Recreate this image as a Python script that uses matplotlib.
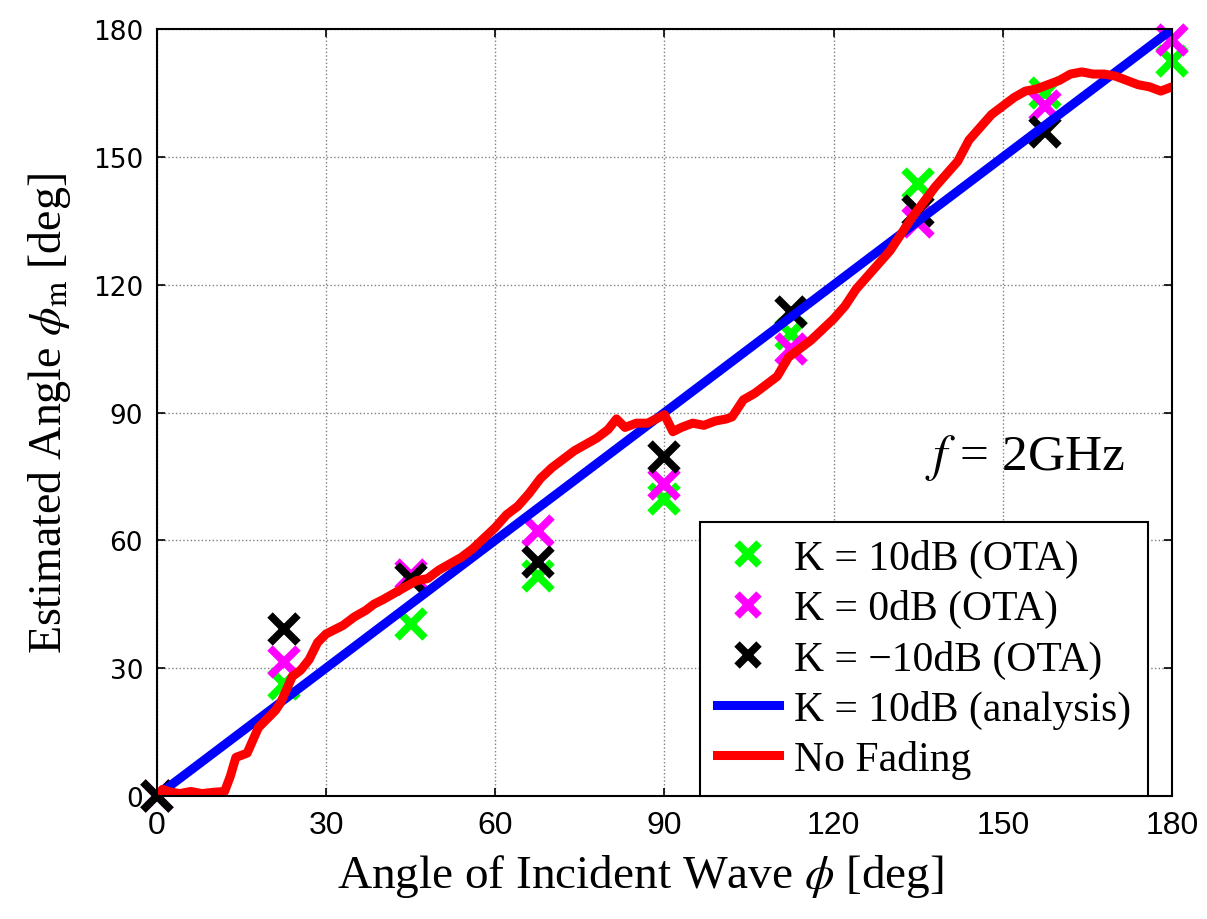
import matplotlib
matplotlib.use('Agg')
import matplotlib.pyplot as plt

plt.rcParams['mathtext.fontset'] = 'stix'
plt.rcParams['font.family'] = ['Liberation Serif', 'DejaVu Serif']

# OTA measurement points (black point at 180 is off the chart / hidden)
ota_angle = [0, 22.5, 45, 67.5, 90, 112.5, 135, 157.5, 180]
k10_ota = [0, 26.3, 40.4, 51.6, 69.7, 108.5, 143.7, 165.0, 172.5]
k0_ota = [0, 31.5, 51.8, 62.2, 73.2, 104.9, 134.7, 162.0, 177.5]
km10_ota = [0, 39.2, 50.9, 54.9, 79.6, 113.6, 137.3, 156.0, float('nan')]

# analysis (K = 10dB)
ana_angle = [0, 180]
ana_est = [0, 180]

# no fading
nf_angle = [0, 1, 2, 4, 6, 8, 10, 12, 13, 14, 16, 17, 18, 19.5, 21, 22, 23, 24,
            25.5, 27, 28.5, 30, 31.5, 33, 35, 37, 38.5, 40, 42, 44, 46, 48, 50,
            52, 54, 56, 58, 60, 62, 64, 66, 68, 70, 72, 74, 76, 78, 80, 81.5, 83,
            85, 87, 88.5, 90, 91.5, 93, 95, 97, 99, 101, 102, 104, 106, 108, 110,
            112, 114, 116, 118, 120, 122, 124, 126, 128, 130, 132, 134, 136, 138,
            140, 142, 144, 146, 148, 150, 152, 154, 156, 158, 160, 162, 164, 166,
            168, 170, 172, 174, 176, 178, 180]
nf_est = [0, 1.5, 1, 0.5, 1, 0.5, 0.8, 1, 4.5, 9, 10, 13, 16, 18, 20, 22, 25, 28,
          29.5, 32, 36, 38, 39, 40, 42, 43.5, 45, 46, 47.5, 49, 50.5, 51, 53,
          54.5, 56, 58, 60.5, 63, 66, 68, 71, 74.5, 77, 79, 81, 82.5, 84, 86, 88.5, 86.5,
          87.5, 87.5, 88.5, 89.5, 85.5, 86.5, 87.5, 87, 88, 88.5, 89, 93, 94.5, 96.5, 98.5,
          103, 105, 107, 109.5, 112, 115, 119, 122, 125, 128, 132, 136, 139.5, 143,
          146, 149, 154, 157, 160, 162, 164, 165.5, 166, 167, 168, 169.5, 170, 169.5,
          169.5, 169, 168, 167, 166.5, 165.5, 166.5]

ticks = [0, 30, 60, 90, 120, 150, 180]

fig = plt.figure(figsize=(12.07, 9.2), dpi=100)
ax = fig.add_axes([0.130, 0.134, 0.841, 0.833])

mk = dict(linestyle='none', marker='x', markersize=20, markeredgewidth=5.5, clip_on=False)
ax.plot(ota_angle, k10_ota, color='#00ff00', label='K = 10dB (OTA)', **mk)
ax.plot(ota_angle, k0_ota, color='#ff00ff', label='K = 0dB (OTA)', **mk)
ax.plot(ota_angle, km10_ota, color='black', label='K = \u221210dB (OTA)', **mk)
ax.plot(ana_angle, ana_est, color='#0000ff', linewidth=6.5, label='K = 10dB (analysis)')
ax.plot(nf_angle, nf_est, color='#ff0000', linewidth=6.5, label='No Fading')

ax.set_xlim(0, 180)
ax.set_ylim(0, 180)
ax.set_xticks(ticks)
ax.set_yticks(ticks)
ax.grid(True, color='#808080', linestyle=':', linewidth=1)
ax.tick_params(direction='in', length=6, width=1.2, top=True, right=True, pad=10)
for lbl in ax.get_xticklabels():
    lbl.set_fontfamily(['Liberation Sans Narrow', 'Liberation Sans', 'DejaVu Sans'])
    lbl.set_fontsize(23)
for lbl in ax.get_yticklabels():
    lbl.set_fontfamily(['DejaVu Sans'])
    lbl.set_fontsize(19)
for s in ax.spines.values():
    s.set_linewidth(1.5)

ax.set_xlabel(r'Angle of Incident Wave $\phi$ [deg]', fontsize=34)
ax.xaxis.set_label_coords(0.476, -0.073)
ax.set_ylabel(r'Estimated Angle $\phi_{\rm m}$ [deg]', fontsize=33, labelpad=14)

ax.text(153.9, 79.6, r'$f$ = 2GHz', fontsize=37, ha='center', va='center')

leg = ax.legend(loc='lower right', bbox_to_anchor=(0.976, 0.0), borderaxespad=0,
                fontsize=30, markerscale=0.8, handlelength=1.5, handletextpad=0.35,
                labelspacing=0.27, borderpad=0.4,
                fancybox=False, framealpha=1, edgecolor='black')
leg.get_frame().set_linewidth(1.5)

fig.savefig('out.png', dpi=100)
